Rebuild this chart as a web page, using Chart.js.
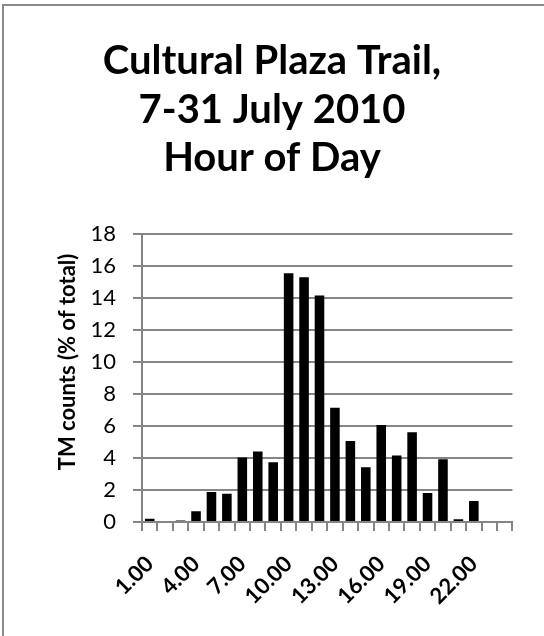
<!DOCTYPE html>
<html>
<head>
<meta charset="utf-8">
<script src="https://cdn.jsdelivr.net/npm/chart.js@4"></script>
<style>
  html, body { margin: 0; padding: 0; background: #fff; }
  #wrap { position: relative; width: 544px; height: 636px; overflow: hidden; }
  #frame { position: absolute; left: 2px; top: 4px; right: -10px; bottom: -10px; border-left: 2px solid #8a8a8a; border-top: 2px solid #8a8a8a; }
  canvas { position: absolute; left: 0; top: 0; }
</style>
</head>
<body>
<div id="wrap">
  <div id="frame"></div>
  <canvas id="chart" width="544" height="636"></canvas>
</div>
<script>
// Hour of day categories and share of TM counts (% of total)
const hours = ['1.00', '2.00', '3.00', '4.00', '5.00', '6.00', '7.00', '8.00', '9.00', '10.00', '11.00', '12.00',
  '13.00', '14.00', '15.00', '16.00', '17.00', '18.00', '19.00', '20.00', '21.00', '22.00', '23.00', '24.00'];
const counts = [0.2, 0, 0.1, 0.67, 1.88, 1.76, 4.04, 4.41, 3.74, 15.56, 15.31, 14.16,
  7.15, 5.06, 3.43, 6.07, 4.16, 5.61, 1.82, 3.93, 0.17, 1.32, 0, 0];
const titleLines = ['Cultural Plaza Trail,', '7-31 July 2010', 'Hour of Day'];
const yTitle = 'TM counts (% of total)';

const gridGray = '#858585';
const fontFamily = 'Lato, "Open Sans", sans-serif';

// y axis title sits a bit above the plot's middle in the original
const yTitlePlugin = {
  id: 'yTitle',
  afterDraw(chart) {
    const ctx = chart.ctx;
    ctx.save();
    ctx.translate(68, 362);
    ctx.rotate(-Math.PI / 2);
    ctx.font = 'bold 22px ' + fontFamily;
    ctx.fillStyle = '#000';
    ctx.textAlign = 'center';
    ctx.textBaseline = 'middle';
    ctx.fillText(yTitle, 0, 0);
    ctx.restore();
  }
};

new Chart(document.getElementById('chart'), {
  type: 'bar',
  data: {
    labels: hours,
    datasets: [{ data: counts, backgroundColor: '#000', categoryPercentage: 0.62, barPercentage: 1 }]
  },
  options: {
    responsive: false,
    animation: false,
    devicePixelRatio: 1,
    layout: { padding: 0 },
    plugins: {
      legend: { display: false },
      tooltip: { enabled: false },
      title: {
        display: true,
        text: titleLines,
        color: '#000',
        font: { family: fontFamily, size: 40, weight: 'bold', lineHeight: 1.21 },
        padding: { top: 37, bottom: 52 }
      }
    },
    scales: {
      x: {
        grid: { drawOnChartArea: false, drawTicks: true, tickLength: 9, color: gridGray, lineWidth: 2 },
        border: { color: gridGray, width: 2 },
        ticks: {
          autoSkip: false,
          minRotation: 45,
          maxRotation: 45,
          padding: 20,
          color: '#000',
          font: { family: fontFamily, size: 22, weight: 'bold' },
          callback: (v, i) => (i % 3 === 0 ? hours[i] : '')
        },
        afterFit: s => { s.width = 372; s.height = 114; }
      },
      y: {
        min: 0,
        max: 18,
        grid: { color: gridGray, lineWidth: 2, tickLength: 9 },
        border: { color: gridGray, width: 2 },
        ticks: {
          stepSize: 2,
          padding: 17,
          color: '#000',
          font: { family: fontFamily, size: 22 }
        },
        afterFit: s => { s.width = 142; }
      },
      // empty strip on the right so the title centres on the whole picture
      spacer: {
        position: 'right',
        grid: { display: false },
        border: { display: false },
        ticks: { display: false },
        afterFit: s => { s.width = 30; }
      }
    }
  },
  plugins: [yTitlePlugin]
});
</script>
</body>
</html>
